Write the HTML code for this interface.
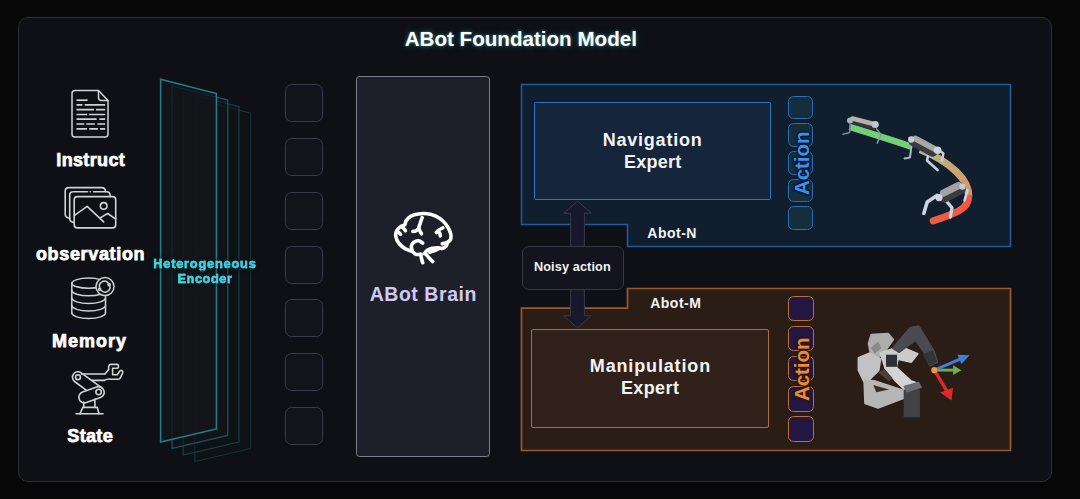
<!DOCTYPE html>
<html lang="en">
<head>
<meta charset="utf-8">
<title>ABot Foundation Model</title>
<style>
html,body{margin:0;padding:0;background:#070708;}
body{width:1080px;height:499px;overflow:hidden;position:relative;font-family:"Liberation Sans",sans-serif;}
#stage{position:absolute;left:0;top:0;width:1080px;height:499px;overflow:hidden;background:#070708;}
#panel{position:absolute;left:17.6px;top:17px;width:1034px;height:465px;box-sizing:border-box;border:1.5px solid #293037;border-radius:10px;background:#0e1015;}
.t{position:absolute;color:#fff;font-weight:700;white-space:nowrap;text-align:center;transform:translateX(-50%);line-height:1;}
#title{left:520.8px;top:28.7px;font-size:20.6px;text-shadow:0 0 3px rgba(110,220,235,.5),0 0 8px rgba(80,190,220,.28);}
.lab{font-size:18px;-webkit-text-stroke:0.75px #fff;letter-spacing:0.35px;}
.sq{position:absolute;left:285px;border:1.1px solid #383b4d;border-radius:6.5px;background:#13131c;box-sizing:border-box;width:38px;height:38px;}
#brain{position:absolute;left:356px;top:76.2px;width:134.3px;height:380.8px;box-sizing:border-box;border:1.5px solid #7c7f8b;border-radius:3.5px;background:#1e2029;}
.enc{font-size:12.8px;color:#3ad0e4;background:linear-gradient(90deg,#2fe0d6,#4cc6f0);-webkit-background-clip:text;background-clip:text;-webkit-text-fill-color:transparent;-webkit-text-stroke:0.45px #3fd3e6;filter:drop-shadow(0 0 1.5px #14171b) drop-shadow(0 0 1.5px #14171b);}
#noisy{position:absolute;left:521.5px;top:246px;width:102px;height:43.5px;box-sizing:border-box;border:1.2px solid #373a46;border-radius:7px;background:#14141e;}
.tx{color:#f3f3f3;}
.nin{position:absolute;box-sizing:border-box;}
.asq{position:absolute;box-sizing:border-box;border-radius:5.5px;}
.act{position:absolute;font-weight:700;font-size:20.4px;line-height:1;white-space:nowrap;transform-origin:0 0;transform:rotate(-90deg);}
svg{position:absolute;left:0;top:0;overflow:visible;}
</style>
</head>
<body>
<div id="stage">
<div id="panel"></div>
<div class="t" id="title">ABot Foundation Model</div>

<!-- expert containers, encoder planes, arrows -->
<svg id="bg" width="1080" height="499" viewBox="0 0 1080 499">
  <!-- encoder planes -->
  <g stroke-linejoin="miter">
    <polygon points="194.8,98.8 250.6,113.1 250.6,448.5 194.8,461.5" stroke="#14313a" fill="rgba(16,19,22,0.3)" stroke-width="1.1"/>
    <polygon points="183.2,92.3 239.0,106.6 239.0,442.0 183.2,455.0" stroke="#153f49" fill="rgba(17,20,23,0.4)" stroke-width="1.2"/>
    <polygon points="172.0,85.8 227.8,100.1 227.8,435.5 172.0,448.5" stroke="#17535f" fill="rgba(18,21,24,0.5)" stroke-width="1.3"/>
    <polygon points="160.6,79.3 216.4,93.6 216.4,429.0 160.6,442.0" stroke="#1c8093" fill="rgba(20,22,25,0.75)" stroke-width="1.5"/>
  </g>
  <!-- nav container -->
  <polygon points="521.5,84.5 1010.5,84.5 1010.5,246.5 627.5,246.5 627.5,224.5 521.5,224.5" fill="#111e2e" stroke="#1d5a9e" stroke-width="1.6"/>
  <!-- manip container -->
  <polygon points="521.5,308.2 627.5,308.2 627.5,288.5 1010.5,288.5 1010.5,450.5 521.5,450.5" fill="#2a1d16" stroke="#9a5a2c" stroke-width="1.7"/>
  <!-- arrows -->
  <polygon points="577.5,201 591.2,213.2 584.4,213.2 584.4,246.5 570.6,246.5 570.6,213.2 563.8,213.2" fill="#18182c" stroke="#383a4e" stroke-width="1"/>
  <polygon points="577.5,327.8 591.2,315.8 584.4,315.8 584.4,289 570.6,289 570.6,315.8 563.8,315.8" fill="#18182c" stroke="#383a4e" stroke-width="1"/>
</svg>


<!-- icons -->
<svg id="icons" width="1080" height="499" viewBox="0 0 1080 499" fill="none" stroke="#d2d2d2" stroke-width="1.5" stroke-linecap="round" stroke-linejoin="round">
  <!-- instruct: document -->
  <g>
    <path d="M75,90.5 H98.5 L108,100.5 V134 Q108,137 105,137 H75 Q72,137 72,134 V93.5 Q72,90.5 75,90.5 Z"/>
    <path d="M98.5,90.8 V97.5 Q98.5,100.5 101.5,100.5 H107.8"/>
    <g stroke-width="1.7" stroke-linecap="butt">
      <path d="M76.5,100.2 H87.6"/>
      <path d="M76.5,104.8 H82.4 M84.7,104.8 H105.2"/>
      <path d="M76.5,109.7 H93.9 M96,109.7 H105.2"/>
      <path d="M76.5,114.5 H87 M89.2,114.5 H105.2"/>
      <path d="M76.5,119.2 H96.7 M99.3,119.2 H105.2"/>
      <path d="M76.5,124 H84.3 M86.3,124 H94.8 M97.4,124 H105.2"/>
      <path d="M76.5,128.9 H87 M89.2,128.9 H98 M100,128.9 H105.2"/>
    </g>
  </g>
  <!-- observation: stacked pictures -->
  <g stroke-width="1.6">
    <rect x="74.2" y="196.6" width="41.5" height="31.3" rx="3.2"/>
    <path d="M74.2,222.5 Q69.7,222 69.7,218.5 V195.3 Q69.7,191.8 73.2,191.8 H87.5 M93.5,191.8 H106.5 Q110.3,191.8 110.3,196.4"/>
    <path d="M90.1,191.8 h0.2"/>
    <path d="M69.7,218.3 Q65.2,217.8 65.2,214.3 V191.1 Q65.2,187.6 68.7,187.6 H101.5 Q105.5,187.6 105.5,191.6"/>
    <path d="M74.4,215.3 L87.2,206.3 L103.7,221.9"/>
    <path d="M100.6,217.6 L107.6,213.5 L115.5,218.9"/>
    <circle cx="103.7" cy="205.9" r="3.3"/>
  </g>
  <!-- memory: database -->
  <mask id="mcut" maskUnits="userSpaceOnUse" x="60" y="270" width="70" height="60">
    <rect x="60" y="270" width="70" height="60" fill="#fff" stroke="none"/>
    <circle cx="105" cy="286.6" r="9" fill="#000" stroke="none"/>
  </mask>
  <g stroke-width="1.5">
    <g mask="url(#mcut)">
      <ellipse cx="88.65" cy="283.2" rx="16.85" ry="5.1"/>
      <path d="M71.8,283.2 V313.1 M105.5,283.2 V313.1"/>
      <path d="M71.8,290.5 A16.85,5.3 0 0 0 105.5,290.5"/>
      <path d="M71.8,298.1 A16.85,5.3 0 0 0 105.5,298.1"/>
      <path d="M71.8,305.6 A16.85,5.3 0 0 0 105.5,305.6"/>
      <path d="M71.8,313.1 A16.85,5.3 0 0 0 105.5,313.1"/>
    </g>
    <circle cx="105" cy="286.6" r="9"/>
    <path d="M100,288.6 A5,5 0 0 1 108.2,283"/>
    <path d="M109.6,285.2 A5,5 0 0 1 101.6,290.8"/>
    <circle cx="109.1" cy="284.6" r="1.1"/>
    <circle cx="99.7" cy="289.3" r="1.1"/>
  </g>
  <!-- state: robot arm -->
  <g stroke-width="1.6">
    <path d="M76,413.8 H103"/>
    <path d="M79.9,413.8 L82.8,407.4 H97.2 L99.1,413.8"/>
    <path d="M83.7,407.4 V402 M94.9,407.4 V399"/>
    <!-- lower arm capsule -->
    <path d="M82.6,392 L96.7,387 A5.6,5.6 0 0 1 100.5,397.6 L86.4,402.6 A5.6,5.6 0 0 1 82.6,392 Z"/>
    <circle cx="98.6" cy="392" r="2.7"/>
    <!-- upper arm capsule -->
    <path d="M81.2,372.9 L101.5,387.6 M74.6,381.5 L86.5,390.3 M81.2,372.9 A5.4,5.4 0 0 0 74.6,381.5"/>
    <circle cx="78" cy="377.2" r="2.4"/>
    <!-- forearm -->
    <path d="M81.5,374 H104.9 M92,380.4 H104.2"/>
    <!-- gripper -->
    <path d="M104.9,374 L108.7,369.5 Q108.2,364.4 110.5,364.4 H116.8 Q118.5,364.4 118.5,366.3 Q118.5,368.3 116.8,368.3 H112.6 V374.7 H117.3 L119.6,371.2 Q121,369.8 122.3,370.8 Q123.3,371.8 122.5,373.3 L120,378.3 Q119.4,379.3 118,379.3 H111 Q108,378.2 104.2,380.4"/>
  </g>
</svg>

<!-- left column labels -->
<div class="t lab" style="left:90.7px;top:151px;">Instruct</div>
<div class="t lab" style="left:90.6px;top:245px;letter-spacing:0.66px;">observation</div>
<div class="t lab" style="left:89.6px;top:331.5px;letter-spacing:1px;">Memory</div>
<div class="t lab" style="left:90.2px;top:426.5px;">State</div>

<div class="t enc" style="left:204.9px;top:257.5px;letter-spacing:0.78px;">Heterogeneous</div>
<div class="t enc" style="left:205px;top:273.1px;letter-spacing:0.56px;">Encoder</div>

<!-- token squares -->
<div class="sq" style="top:84px"></div>
<div class="sq" style="top:138px"></div>
<div class="sq" style="top:192px"></div>
<div class="sq" style="top:246px"></div>
<div class="sq" style="top:299px"></div>
<div class="sq" style="top:353px"></div>
<div class="sq" style="top:407px"></div>

<div id="brain"></div>
<!-- brain icon -->
<svg id="brainicon" width="1080" height="499" viewBox="0 0 1080 499" fill="none" stroke="#fff" stroke-width="3.6" stroke-linecap="round" stroke-linejoin="round">
  <path d="M420.7,254.3 C419.9,254.3 417.2,254.7 415.8,254.3 C414.4,253.8 413.9,252.4 412.2,251.5 C410.5,250.6 407.8,250.2 405.6,248.9 C403.4,247.5 400.7,245.6 399.0,243.5 C397.4,241.4 396.1,238.5 395.8,236.3 C395.4,234.0 396.1,231.8 397.0,230.2 C397.8,228.6 399.5,227.5 400.8,226.6 C402.1,225.7 403.8,225.8 404.7,224.8 C405.6,223.8 405.2,222.1 406.2,220.6 C407.3,219.2 409.0,217.3 411.0,216.2 C413.0,215.1 415.5,214.4 418.3,214.0 C421.0,213.6 424.4,213.4 427.3,213.8 C430.2,214.1 433.1,215.0 435.7,216.2 C438.3,217.4 440.9,219.1 442.9,221.0 C444.9,222.8 446.6,225.1 447.9,227.2 C449.2,229.4 450.3,231.8 450.7,233.8 C451.1,235.9 451.0,238.0 450.5,239.5 C449.9,241.0 448.2,241.6 447.5,242.6 C446.8,243.7 447.0,244.9 446.3,245.9 C445.5,246.8 444.3,247.9 442.9,248.3 C441.5,248.6 439.9,247.9 438.1,247.9 C436.3,247.9 433.9,247.9 432.1,248.3 C430.3,248.7 428.6,249.4 427.3,250.3 C426.0,251.2 424.8,253.1 424.3,253.7"/>
  <path d="M420.7,254.3 C420.8,255.0 421.2,257.1 421.5,258.5 C421.8,259.9 422.5,262.0 422.7,262.7"/>
  <path d="M426.1,254.3 C426.6,254.9 428.3,257.0 429.4,258.3 C430.5,259.5 432.1,261.0 432.7,261.5"/>
  <path d="M422.7,243.1 C422.0,242.7 420.1,240.8 418.6,240.7 C417.1,240.6 415.0,241.3 413.8,242.3 C412.6,243.2 411.5,245.0 411.3,246.5 C411.1,248.0 412.3,250.5 412.5,251.3"/>
  <path d="M429.7,252.2 C430.6,251.9 433.5,251.0 435.1,250.3 C436.7,249.7 438.6,248.6 439.3,248.3"/>
  <path d="M422.2,217.6 C421.9,218.6 420.6,221.8 420.1,223.6 C419.5,225.4 418.6,226.7 418.9,228.4 C419.1,230.1 421.1,232.9 421.5,233.8"/>
  <path d="M418.9,228.4 C418.4,228.8 416.8,230.3 415.8,230.8 C414.8,231.3 413.3,231.3 412.8,231.4"/>
  <path d="M401.4,226.6 C401.9,227.0 403.5,228.3 404.2,229.0 C404.8,229.7 405.2,230.5 405.4,230.8"/>
  <path d="M398.2,232.0 C398.6,232.4 400.2,233.8 400.6,234.2"/>
  <path d="M442.9,227.8 C442.2,228.2 439.8,229.4 438.7,230.2 C437.6,231.0 436.7,232.2 436.3,232.6"/>
  <path d="M438.1,230.8 C438.4,231.3 439.5,233.0 439.9,233.8 C440.3,234.7 440.2,235.6 440.3,235.9"/>
  <path d="M446.7,242.5 C446.0,242.7 443.0,243.6 442.3,243.8"/>
</svg>
<div class="t" style="left:423.3px;top:285.2px;font-size:19.5px;letter-spacing:0.55px;color:#d2c8f6;">ABot Brain</div>

<!-- navigation expert -->
<div class="nin" style="left:534px;top:102.2px;width:237px;height:98.3px;border:1.7px solid #2a74c6;border-radius:1.5px;background:#15253b;"></div>
<div class="t tx" style="left:652.6px;top:131.0px;font-size:18px;letter-spacing:0.78px;">Navigation</div>
<div class="t tx" style="left:652.7px;top:152.9px;font-size:18px;letter-spacing:0.25px;">Expert</div>
<div class="t tx" style="left:672.1px;top:226.4px;font-size:14px;letter-spacing:0.5px;">Abot-N</div>

<div id="noisy"></div>
<div class="t tx" style="left:572.4px;top:260.6px;font-size:12.7px;letter-spacing:0.12px;">Noisy action</div>

<!-- manipulation expert -->
<div class="nin" style="left:530.6px;top:328.6px;width:238.6px;height:99.4px;border:1.7px solid #b06c3a;border-radius:2px;background:#30221a;"></div>
<div class="t tx" style="left:650.4px;top:357.4px;font-size:18px;letter-spacing:0.85px;">Manipulation</div>
<div class="t tx" style="left:650.1px;top:379.4px;font-size:18px;letter-spacing:0.4px;">Expert</div>
<div class="t tx" style="left:675.8px;top:295.9px;font-size:14px;letter-spacing:0.5px;">Abot-M</div>

<!-- illustrations -->
<svg id="art" style="filter:blur(0.45px)" width="1080" height="499" viewBox="0 0 1080 499" fill="none" stroke-linecap="round" stroke-linejoin="round">
  <defs>
    <linearGradient id="gtan" gradientUnits="userSpaceOnUse" x1="925" y1="150" x2="968" y2="200">
      <stop offset="0" stop-color="#b9b58a"/><stop offset="0.5" stop-color="#c9a673"/><stop offset="1" stop-color="#d99560"/>
    </linearGradient>
  </defs>
  <!-- trajectory -->
  <path d="M849.6,126.8 L872.1,133.8 L900.1,142.8 L912,146.8" stroke="#74cf78" stroke-width="6.6" stroke-linecap="butt"/>
  <path d="M920,149.6 C932,154 946,162 956.2,171.5 C964,179 969,188 968.8,197" stroke="url(#gtan)" stroke-width="7.2" stroke-linecap="butt"/>
  <path d="M968.6,198 C968,206 960,211 952,214 C946,216.5 940,218.6 933.2,220.8" stroke="#ee5a44" stroke-width="7"/>
  <!-- robot dog 1 -->
  <g>
    <path d="M850.3,122 L849.6,132.5 L843,134.2" stroke="#7d8794" stroke-width="1.6"/>
    <path d="M874.5,126.5 L881,134.5 L877.3,143" stroke="#8b95a3" stroke-width="1.6"/>
    <path d="M852,120.5 L873.5,126" stroke="#34363a" stroke-width="7.4"/>
    <path d="M852.5,118.6 L873.8,124" stroke="#b7b1ab" stroke-width="4.6"/>
    <circle cx="850" cy="120.4" r="3" fill="#a9b4c2"/>
    <circle cx="875.2" cy="124.5" r="3.6" fill="#c2c6cc"/>
  </g>
  <!-- robot dog 2 -->
  <g>
    <path d="M911.5,146 L910,157.4 L904.5,158.4" stroke="#aab6c8" stroke-width="2"/>
    <path d="M928.3,154.5 L927,160.5 L937.6,170" stroke="#c6d0e0" stroke-width="2.6"/>
    <path d="M938,149.4 L943.4,153.5 L942,160.5" stroke="#c6d0e0" stroke-width="2.4"/>
    <path d="M913.5,141 L932.5,151.5" stroke="#3a3b40" stroke-width="10.5"/>
    <path d="M915.5,138.6 L934,148.6" stroke="#a9a6a3" stroke-width="6"/>
    <circle cx="911.2" cy="139.5" r="3.2" fill="#c5cad2"/>
    <circle cx="937.6" cy="150.2" r="3.8" fill="#cdd3dc"/>
  </g>
  <!-- robot dog 3 -->
  <g>
    <path d="M937,195.5 L927.2,202 L923.8,213.4" stroke="#c9d3e2" stroke-width="3.6"/>
    <path d="M945,199.5 L952,207.8 L950.4,217" stroke="#c9d3e2" stroke-width="3.3"/>
    <path d="M962,188.5 L967.5,190.2 L964.5,200.5" stroke="#c9d3e2" stroke-width="2.6"/>
    <path d="M944.5,196.5 L960,188.5" stroke="#3a3b40" stroke-width="12"/>
    <path d="M943.5,193 L958.5,185.5" stroke="#a5a3a1" stroke-width="7"/>
    <circle cx="939" cy="197.6" r="3.6" fill="#cfd5de"/>
    <circle cx="962.5" cy="186.5" r="3.2" fill="#c5cad2"/>
  </g>

  <!-- manipulator -->
  <g transform="translate(845,315) scale(0.2205)" stroke-linejoin="round">
    <polygon points="120,90 195,85 218,112 182,162 150,192 118,182 108,130" fill="#adadad" stroke="#adadad" stroke-width="10"/>
    <polygon points="62,195 110,175 160,200 152,250 112,290 86,300 62,250" fill="#c2c2c2" stroke="#c2c2c2" stroke-width="10"/>
    <polygon points="88,296 132,300 270,345 266,376 150,420 92,400" fill="#b6b6b6" stroke="#b6b6b6" stroke-width="10"/>
    <polygon points="160,172 250,142 330,176 300,214 240,200 232,240 182,240" fill="#cacaca" stroke="#cacaca" stroke-width="8"/>
    <polygon points="182,240 230,235 300,300 330,310 272,340 230,300" fill="#d4d4d4" stroke="#d4d4d4" stroke-width="8"/>
    <polygon points="128,318 200,338 142,350" fill="#3a2d27"/>
    <polygon points="150,262 200,300 215,285 175,245" fill="#4a3f3a"/>
    <polygon points="118,150 150,120 165,150 135,175" fill="#8a8a8a"/>
    <rect x="186" y="180" width="50" height="55" fill="#2f3034"/>
    <rect x="266" y="338" width="74" height="126" fill="#414246"/>
    <polygon points="264,322 335,302 350,330 280,352" fill="#6b6c71"/>
    <polygon points="215,150 295,57 335,50 405,165 420,215 385,230 365,180 320,115 245,170" fill="#4a4b50" stroke="#4a4b50" stroke-width="6"/>
    <polygon points="352,178 398,160 418,214 380,230" fill="#34353a"/>
    <!-- axes -->
    <path d="M405,250 L500,250" stroke="#6ab04c" stroke-width="13" stroke-linecap="butt"/>
    <polygon points="490,228 528,250 490,272" fill="#6ab04c"/>
    <path d="M405,250 L530,197" stroke="#3f7fe0" stroke-width="13" stroke-linecap="butt"/>
    <polygon points="510,180 565,183 528,222" fill="#3f7fe0"/>
    <path d="M405,250 L465,350" stroke="#e02828" stroke-width="15" stroke-linecap="butt"/>
    <polygon points="432,352 490,330 483,388" fill="#e02828"/>
    <circle cx="405" cy="250" r="14" fill="#f0963c"/>
  </g>
</svg>

<!-- action tokens -->
<div class="asq" style="left:788.1px;top:95.60px;width:24.6px;height:23.6px;border:1.6px solid #2a6cba;background:#142e3c;"></div>
<div class="asq" style="left:788.1px;top:123.32px;width:24.6px;height:23.6px;border:1.6px solid #2a6cba;background:#142e3c;"></div>
<div class="asq" style="left:788.1px;top:151.04px;width:24.6px;height:23.6px;border:1.6px solid #2a6cba;background:#142e3c;"></div>
<div class="asq" style="left:788.1px;top:178.76px;width:24.6px;height:23.6px;border:1.6px solid #2a6cba;background:#142e3c;"></div>
<div class="asq" style="left:788.1px;top:206.48px;width:24.6px;height:23.6px;border:1.6px solid #2a6cba;background:#142e3c;"></div>
<div class="asq" style="left:788px;top:295.60px;width:25.5px;height:25.4px;border:1.7px solid #b8723c;background:#241842;"></div>
<div class="asq" style="left:788px;top:325.80px;width:25.5px;height:25.4px;border:1.7px solid #b8723c;background:#241842;"></div>
<div class="asq" style="left:788px;top:356.00px;width:25.5px;height:25.4px;border:1.7px solid #b8723c;background:#241842;"></div>
<div class="asq" style="left:788px;top:386.20px;width:25.5px;height:25.4px;border:1.7px solid #b8723c;background:#241842;"></div>
<div class="asq" style="left:788px;top:416.40px;width:25.5px;height:25.4px;border:1.7px solid #b8723c;background:#241842;"></div>
<div class="act" style="left:792.1px;top:195.4px;color:#3d8ff2;-webkit-text-stroke:0;text-shadow:0 0 2px #0f1c2c,0 0 2px #0f1c2c,0 0 3px #0f1c2c,1px 1px 0 #0f1c2c,-1px -1px 0 #0f1c2c,1px -1px 0 #0f1c2c,-1px 1px 0 #0f1c2c;">Action</div>
<div class="act" style="left:792.2px;top:400.6px;color:#f08a3a;text-shadow:0 0 2px #2a1c14,0 0 2px #2a1c14,0 0 3px #2a1c14,1px 1px 0 #2a1c14,-1px -1px 0 #2a1c14,1px -1px 0 #2a1c14,-1px 1px 0 #2a1c14;">Action</div>

</div>
</body>
</html>
